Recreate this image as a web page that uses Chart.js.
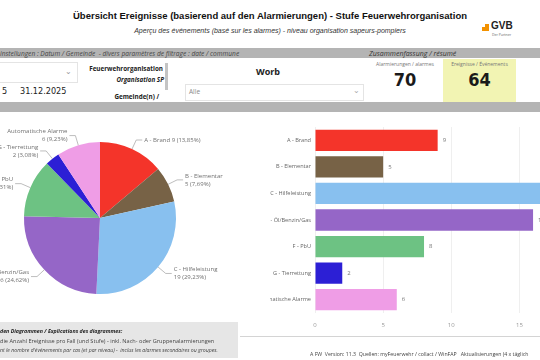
<!DOCTYPE html>
<html>
<head>
<meta charset="utf-8">
<script src="https://cdn.jsdelivr.net/npm/chart.js@4"></script>
<style>
  html, body { margin: 0; padding: 0; }
  body { width: 540px; height: 360px; overflow: hidden; position: relative; background: #fff;
         font-family: "Open Sans", "Noto Sans", sans-serif; color: #222; }
  .abs { position: absolute; white-space: nowrap; }
  .balken-grau { position: absolute; left: 0; width: 540px; background: #b4b4b4; }
  #titel { left: 0; width: 540px; top: 10px; text-align: center; font: bold 9.5px "Liberation Sans", Arial, sans-serif; color: #111; }
  #untertitel { left: 0; width: 540px; top: 27px; text-align: center; font: italic 7px "Liberation Sans", Arial, sans-serif; color: #333; }
  .klein { font-size: 5px; color: #777; }
  .zahl { font: bold 18px "DejaVu Sans Condensed", "Liberation Sans", sans-serif; color: #1a1a1a; }
  canvas { position: absolute; }
</style>
</head>
<body>

<div class="abs" id="titel">Übersicht Ereignisse (basierend auf den Alarmierungen) - Stufe Feuerwehrorganisation</div>
<div class="abs" id="untertitel">Aperçu des événements (basé sur les alarmes) - niveau organisation sapeurs-pompiers</div>

<!-- Logo -->
<div class="abs" style="left:482px;top:24px;width:7px;height:7px;background:#f39200;"></div>
<div class="abs" style="left:482px;top:24px;width:3px;height:3px;background:#fff;"></div>
<div class="abs" style="left:491px;top:20px;font:bold 10px 'Liberation Sans',Arial,sans-serif;color:#222;">GVB</div>
<div class="abs" style="left:492px;top:32px;font-size:3.5px;color:#666;">Der Partner</div>

<!-- Grauer Balken oben -->
<div class="balken-grau" style="top:48px;height:10px;"></div>
<div class="abs" style="left:0;top:48.5px;font-style:italic;font-size:6.6px;color:#444;">instellungen : Datum / Gemeinde&nbsp; - divers paramètres de filtrage : date / commune</div>
<div class="abs" style="left:369px;top:48.5px;font-style:italic;font-size:7px;color:#333;">Zusammenfassung / résumé</div>

<!-- Filter -->
<div class="abs" style="left:-2px;top:62px;width:78px;height:19px;border:1px solid #e4e4e4;"></div>
<div class="abs" style="left:65px;top:65px;font-size:8px;color:#999;">&#8964;</div>
<div class="abs" style="left:2px;top:86px;font:9px 'DejaVu Sans Condensed',sans-serif;color:#222;">5</div>
<div class="abs" style="left:20px;top:86px;font:9px 'DejaVu Sans Condensed',sans-serif;color:#222;">31.12.2025</div>

<div class="abs" style="right:377px;top:64px;font-weight:bold;font-size:6.3px;color:#222;">Feuerwehrorganisation</div>
<div class="abs" style="right:376px;top:75px;font-weight:bold;font-style:italic;font-size:6.3px;color:#222;">Organisation SP</div>
<div class="abs" style="right:381px;top:92px;font-weight:bold;font-size:6.3px;color:#222;">Gemeinde(n) /</div>
<div class="abs" style="left:165px;top:63px;width:3px;height:27px;background:#c4c4c4;"></div>

<div class="abs" style="left:256px;top:65px;font-weight:bold;font-size:9px;color:#222;">Worb</div>
<div class="abs" style="left:185px;top:84px;width:177px;height:15px;border:1px solid #e4e4e4;"></div>
<div class="abs" style="left:189px;top:87px;font-size:6.5px;color:#888;">Alle</div>
<div class="abs" style="left:353px;top:84px;font-size:8px;color:#aaa;">&#8964;</div>

<!-- Kennzahlen -->
<div class="abs klein" style="left:370px;width:70px;top:61px;text-align:center;">Alarmierungen / alarmes</div>
<div class="abs zahl" style="left:370px;width:70px;top:69px;text-align:center;" id="anzahlAlarme"></div>
<div class="abs" style="left:443px;top:59px;width:73px;height:43px;background:#f2f4b3;"></div>
<div class="abs klein" style="left:443px;width:73px;top:61px;text-align:center;">Ereignisse / Événements</div>
<div class="abs zahl" style="left:443px;width:73px;top:69px;text-align:center;" id="anzahlEreignisse"></div>

<!-- Grauer Balken Mitte -->
<div class="balken-grau" style="top:102px;height:10px;"></div>

<canvas id="kuchen" width="250" height="210" style="left:0;top:112px;"></canvas>
<canvas id="balken" width="330" height="224" style="left:270px;top:112px;"></canvas>

<!-- Erklärungen unten -->
<div class="abs" style="left:0;top:322px;width:238px;height:36px;background:#e6e6e6;"></div>
<div class="abs" style="left:0;top:326.5px;font-size:5.3px;font-weight:bold;font-style:italic;color:#222;">den Diagrammen / Explications des diagrammes:</div>
<div class="abs" style="left:0;top:336.5px;font-size:5.6px;color:#444;">die Anzahl Ereignisse pro Fall (und Stufe) - inkl. Nach- oder Gruppenalarmierungen</div>
<div class="abs" style="left:0;top:345.5px;font-size:5.2px;font-style:italic;color:#444;">nt le nombre d'événements par cas (et par niveau) -&nbsp; inclus les alarmes secondaires ou groupes.</div>

<div class="abs" style="left:240px;top:336px;width:300px;height:1px;background:#d4d4d4;"></div>
<div class="abs" style="left:310px;top:350px;font-size:5.2px;color:#444;">A FW&nbsp; Version: 11.3&nbsp; Quellen: myFeuerwehr / collact / WinFAP &nbsp; Aktualisierungen (4 x täglich</div>

<script>
// Werte aus dem Dashboard
var kategorien = ['A - Brand', 'B - Elementar', 'C - Hilfeleistung', 'D - Öl/Benzin/Gas', 'F - PbU', 'G - Tierrettung', 'Automatische Alarme'];
var werte = [9, 5, 19, 16, 8, 2, 6];
var farben = ['#f4342a', '#776246', '#88c0ef', '#9566c7', '#6dc283', '#2c1fd5', '#ef9de6'];
var xTicks = [0, 5, 10, 15, 20];
var alarme = 70;
var ereignisse = 64;

document.getElementById('anzahlAlarme').textContent = alarme;
document.getElementById('anzahlEreignisse').textContent = ereignisse;

var schrift = '"Open Sans", "Noto Sans", sans-serif';

// Beschriftungen mit Linien neben den Kuchenstuecken
var kuchenLabels = {
    id: 'kuchenLabels',
    afterDraw: function (chart) {
        var ctx = chart.ctx,
            meta = chart.getDatasetMeta(0),
            total = werte.reduce(function (a, b) { return a + b; }, 0),
            summe = 0;

        ctx.save();
        ctx.font = '6px ' + schrift;
        ctx.fillStyle = '#707070';
        ctx.strokeStyle = '#a0a0a0';
        ctx.lineWidth = 0.7;
        ctx.textBaseline = 'middle';

        meta.data.forEach(function (arc, i) {
            // Winkel aus den Werten (Start oben, im Uhrzeigersinn)
            var mid = -Math.PI / 2 + (summe + werte[i] / 2) / total * 2 * Math.PI;
            summe += werte[i];

            var cx = arc.x, cy = arc.y, r = arc.outerRadius,
                cos = Math.cos(mid), sin = Math.sin(mid),
                rechts = cos >= 0,
                x0 = cx + cos * r, y0 = cy + sin * r,
                x1 = cx + cos * (r + 10), y1 = cy + sin * (r + 10),
                x2 = x1 + (rechts ? 6 : -6),
                tx = x2 + (rechts ? 2 : -2),
                pct = (werte[i] / total * 100).toFixed(2).replace('.', ','),
                wert = werte[i] + ' (' + pct + '%)';

            ctx.beginPath();
            ctx.moveTo(x0, y0);
            ctx.lineTo(x1, y1);
            ctx.lineTo(x2, y1);
            ctx.stroke();

            ctx.textAlign = rechts ? 'left' : 'right';
            if (i == 0) {
                ctx.fillText(kategorien[i] + ' ' + wert, tx, y1);
            } else {
                ctx.fillText(kategorien[i], tx, y1 - 4);
                ctx.fillText(wert, tx, y1 + 4);
            }
        });
        ctx.restore();
    }
};

// Zahlen am Ende der Balken
var balkenWerte = {
    id: 'balkenWerte',
    afterDatasetsDraw: function (chart) {
        var ctx = chart.ctx;
        ctx.save();
        ctx.font = '6px ' + schrift;
        ctx.fillStyle = '#777';
        ctx.textAlign = 'left';
        ctx.textBaseline = 'middle';
        chart.getDatasetMeta(0).data.forEach(function (bar, i) {
            ctx.fillText(werte[i], bar.x + 5, bar.y);
        });
        ctx.restore();
    }
};

new Chart(document.getElementById('kuchen'), {
    type: 'pie',
    data: {
        labels: kategorien,
        datasets: [{
            data: werte,
            backgroundColor: farben,
            borderWidth: 0
        }]
    },
    options: {
        responsive: false,
        animation: false,
        layout: { padding: { left: 24, right: 74, top: 30, bottom: 28 } },
        plugins: {
            legend: { display: false },
            tooltip: { enabled: false }
        }
    },
    plugins: [kuchenLabels]
});

new Chart(document.getElementById('balken'), {
    type: 'bar',
    data: {
        labels: kategorien,
        datasets: [{
            data: werte,
            backgroundColor: farben,
            categoryPercentage: 0.8,
            barPercentage: 1
        }]
    },
    options: {
        indexAxis: 'y',
        responsive: false,
        animation: false,
        layout: { padding: { top: 15, bottom: 5, right: 3 } },
        scales: {
            x: {
                min: xTicks[0],
                max: xTicks[xTicks.length - 1],
                afterBuildTicks: function (s) { s.ticks = xTicks.map(function (v) { return { value: v }; }); },
                ticks: { color: '#999', font: { size: 6, family: schrift }, padding: 9 },
                grid: { color: '#efefef', drawTicks: false },
                border: { display: false },
                afterFit: function (s) { s.height = 18; }
            },
            y: {
                ticks: { color: '#666', font: { size: 5.6, family: schrift }, padding: 4 },
                grid: { display: false, drawTicks: false },
                border: { display: false },
                afterFit: function (s) { s.width = 45; }
            }
        },
        plugins: {
            legend: { display: false },
            tooltip: { enabled: false }
        }
    },
    plugins: [balkenWerte]
});
</script>
</body>
</html>
